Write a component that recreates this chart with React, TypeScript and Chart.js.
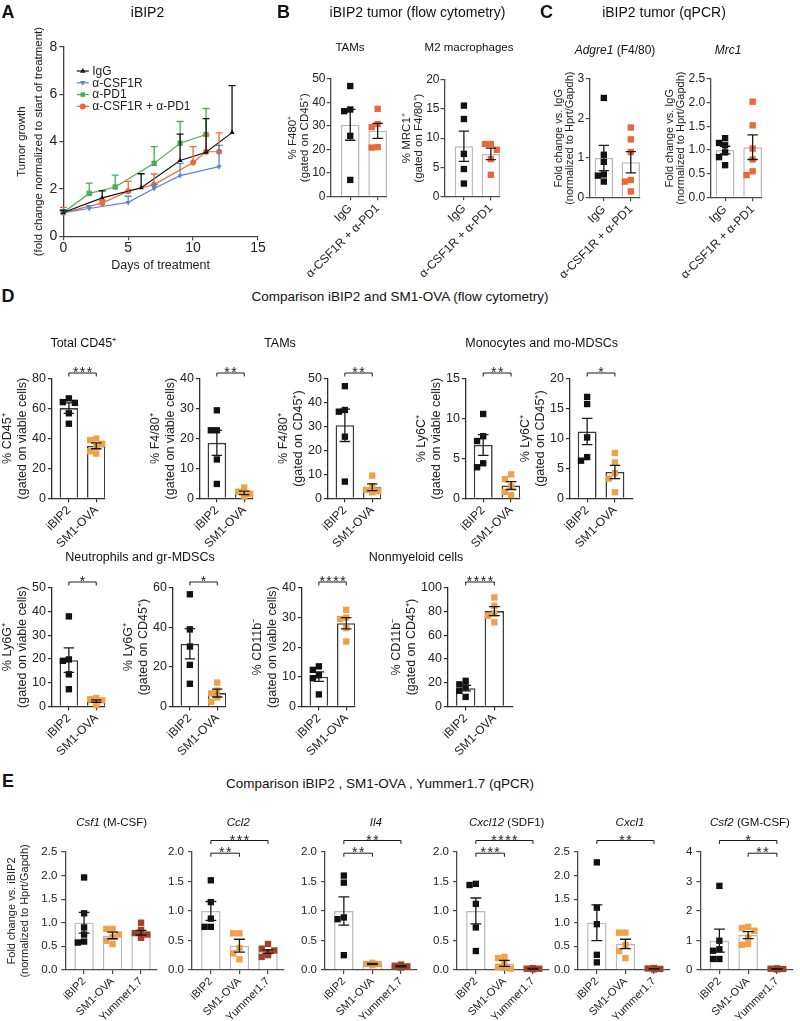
import React, { useEffect, useRef } from "react";
import { Chart, registerables } from "chart.js";

Chart.register(...registerables);

const FONT = "'Liberation Sans', Arial, Helvetica, sans-serif";
Chart.defaults.font.family = FONT;
Chart.defaults.color = "#222";

/* ---------------- Panel A data ---------------- */
const A_DAYS_IGG = [0, 3, 6, 9, 11, 13];
const A_IGG = [1.0, 1.62, 2.05, 3.2, 3.55, 4.38];
const A_IGG_SEM = [0.1, 0.3, 0.59, 1.12, 1.42, 1.99];
const A_DAYS_CSF1R = [0, 2, 5, 7, 9, 12];
const A_CSF1R = [1.0, 1.17, 1.43, 2.02, 2.56, 2.94];
const A_CSF1R_SEM = [0.08, 0.12, 0.26, 0.17, 0.52, 0.9];
const A_DAYS_PD1 = [0, 2, 4, 7, 9, 11];
const A_PD1 = [1.0, 1.81, 2.08, 3.08, 3.93, 4.3];
const A_PD1_SEM = [0.1, 0.43, 0.5, 0.71, 0.92, 1.1];
const A_DAYS_COMBO = [0, 3, 5, 7, 10, 11, 12];
const A_COMBO = [1.0, 1.4, 1.9, 2.18, 3.12, 3.57, 3.57];
const A_COMBO_SEM = [0.22, 0.12, 0.42, 0.45, 0.67, 0.72, 0.8];
const A_LABELS = ["IgG", "α-CSF1R", "α-PD1", "α-CSF1R + α-PD1"];

/* ---------------- Panel B data ---------------- */
const B_GROUPS = ["IgG", "α-CSF1R + α-PD1"];
const B_TAM_MEAN = [30.5, 27.9];
const B_TAM_SEM = [6.6, 3.2];
const B_TAM_IGG = [47, 37, 36.3, 25.8, 7];
const B_TAM_COMBO = [37.3, 30.8, 29.5, 21, 20.8];
const B_M2_MEAN = [8.6, 7.3];
const B_M2_SEM = [2.6, 1.0];
const B_M2_IGG = [15.6, 13.3, 7.3, 4.7, 2.2];
const B_M2_COMBO = [9.0, 9.0, 8.0, 6.4, 3.7];

/* ---------------- Panel C data ---------------- */
const C_ADGRE1_MEAN = [1.0, 0.89];
const C_ADGRE1_SEM = [0.32, 0.27];
const C_ADGRE1_IGG = [2.52, 1.08, 0.9, 0.58, 0.4, 0.55];
const C_ADGRE1_COMBO = [1.77, 1.47, 1.15, 0.44, 0.4, 0.15];
const C_MRC1_MEAN = [1.0, 1.06];
const C_MRC1_SEM = [0.08, 0.26];
const C_MRC1_IGG = [1.25, 1.15, 1.1, 0.95, 0.85, 0.68];
const C_MRC1_COMBO = [2.02, 1.52, 1.03, 0.8, 0.55, 0.47];

/* ---------------- Panel D data ---------------- */
const D_GROUPS = ["iBIP2", "SM1-OVA"];
const D_CD45_MEAN = [60.5, 35.2];
const D_CD45_SEM = [3.5, 2.0];
const D_CD45_IBIP2 = [67, 64.5, 64, 57, 50];
const D_CD45_SM1 = [40, 39, 36.5, 34.5, 31.5, 30];
const D_F480V_MEAN = [18.6, 1.8];
const D_F480V_SEM = [4.2, 0.6];
const D_F480V_IBIP2 = [29.5, 22.8, 22.8, 13, 4.8];
const D_F480V_SM1 = [3.6, 2.2, 1.5, 1.0, 0.5];
const D_F480C_MEAN = [30.6, 4.6];
const D_F480C_SEM = [6.8, 1.4];
const D_F480C_IBIP2 = [47, 37, 36.3, 25.8, 7];
const D_F480C_SM1 = [9.5, 5, 3.5, 3, 2.5];
const D_LY6CV_MEAN = [6.7, 1.6];
const D_LY6CV_SEM = [1.3, 0.5];
const D_LY6CV_IBIP2 = [10.6, 7.8, 7.2, 4.4, 3.9];
const D_LY6CV_SM1 = [3.0, 2.4, 1.5, 0.8, 0.4];
const D_LY6CC_MEAN = [11.2, 4.4];
const D_LY6CC_SEM = [2.2, 1.1];
const D_LY6CC_IBIP2 = [17.0, 15.8, 10.2, 6.9, 6.3];
const D_LY6CC_SM1 = [7.6, 6.0, 4.2, 3.3, 1.0];
const D_LY6GV_MEAN = [19.5, 2.2];
const D_LY6GV_SEM = [5.2, 0.5];
const D_LY6GV_IBIP2 = [38, 19.8, 19.2, 13.5, 7.2];
const D_LY6GV_SM1 = [3.5, 3.0, 2.5, 1.5, 0.5];
const D_LY6GC_MEAN = [31.7, 6.7];
const D_LY6GC_SEM = [7.7, 2.0];
const D_LY6GC_IBIP2 = [56.8, 39, 30.3, 21, 11.4];
const D_LY6GC_SM1 = [12, 8, 6.5, 4.5, 2.3];
const D_CD11BV_MEAN = [10.0, 28.1];
const D_CD11BV_SEM = [1.6, 1.9];
const D_CD11BV_IBIP2 = [13.5, 12.3, 10.5, 9.5, 4.0];
const D_CD11BV_SM1 = [32.6, 30, 29.5, 26.4, 21.9];
const D_CD11BC_MEAN = [15.3, 80.5];
const D_CD11BC_SEM = [2.3, 3.8];
const D_CD11BC_IBIP2 = [21.5, 18.5, 16, 13, 7.9];
const D_CD11BC_SM1 = [92, 85, 78.5, 76.5, 71];

/* ---------------- Panel E data ---------------- */
const E_GROUPS = ["iBIP2", "SM1-OVA", "Yummer1.7"];
const E_CSF1_MEAN = [1.0, 0.73, 0.79];
const E_CSF1_SEM = [0.22, 0.07, 0.05];
const E_CSF1_IBIP2 = [1.96, 1.2, 0.9, 0.75, 0.6, 0.58];
const E_CSF1_SM1 = [0.87, 0.87, 0.75, 0.7, 0.62, 0.55];
const E_CSF1_YUM = [1.0, 0.85, 0.78, 0.75, 0.72, 0.68];
const E_CCL2_MEAN = [1.0, 0.41, 0.31];
const E_CCL2_SEM = [0.16, 0.11, 0.03];
const E_CCL2_IBIP2 = [1.52, 1.15, 0.87, 0.73, 0.73];
const E_CCL2_SM1 = [0.62, 0.62, 0.37, 0.28, 0.18];
const E_CCL2_YUM = [0.44, 0.36, 0.33, 0.3, 0.28, 0.25, 0.22];
const E_IL4_MEAN = [1.0, 0.1, 0.06];
const E_IL4_SEM = [0.24, 0.01, 0.01];
const E_IL4_IBIP2 = [1.6, 1.48, 0.89, 0.86, 0.25];
const E_IL4_SM1 = [0.12, 0.1, 0.1, 0.08, 0.09];
const E_IL4_YUM = [0.09, 0.07, 0.06, 0.05, 0.04];
const E_CXCL12_MEAN = [1.0, 0.11, 0.02];
const E_CXCL12_SEM = [0.22, 0.05, 0.005];
const E_CXCL12_IBIP2 = [1.46, 1.44, 1.12, 0.72, 0.32];
const E_CXCL12_SM1 = [0.22, 0.2, 0.1, 0.05, 0.02, 0.04];
const E_CXCL12_YUM = [0.03, 0.02, 0.02, 0.01, 0.02];
const E_CXCL1_MEAN = [1.0, 0.55, 0.02];
const E_CXCL1_SEM = [0.38, 0.1, 0.005];
const E_CXCL1_IBIP2 = [2.28, 1.32, 0.97, 0.32, 0.16];
const E_CXCL1_SM1 = [0.79, 0.79, 0.53, 0.4, 0.25];
const E_CXCL1_YUM = [0.04, 0.03, 0.02, 0.02, 0.01];
const E_CSF2_MEAN = [0.99, 1.18, 0.03];
const E_CSF2_SEM = [0.39, 0.12, 0.01];
const E_CSF2_IBIP2 = [2.85, 0.99, 0.7, 0.65, 0.37, 0.37];
const E_CSF2_SM1 = [1.46, 1.42, 1.33, 1.1, 0.88, 0.85];
const E_CSF2_YUM = [0.05, 0.04, 0.03, 0.03, 0.02];

/* ---------------- styles ---------------- */
const BLACK = "#111111";
const ORANGE = "#f0a046";
const RED_BC = "#e8683c";
const BROWN = "#a2412a";
const A_COLORS = ["#111111", "#5585d6", "#4bab56", "#ea6a3a"];

type Sig = { a: number; b: number; text: string; level: number };
type Theme = {
  axis: string; bar: string; barW: number; tick: number; tickPad: number; label: number;
  title: number; titleLH: number; titlePad: number; sigY: number[];
};
const TH: Record<string, Theme> = {
  B: { axis: "#4a4a4a", bar: "#b9b9b9", barW: 1.5, tick: 12, tickPad: 1, label: 12, title: 11.5, titleLH: 1.05, titlePad: 0, sigY: [-6] },
  C: { axis: "#4a4a4a", bar: "#b9b9b9", barW: 1.5, tick: 12, tickPad: 1.5, label: 12, title: 11, titleLH: 1.05, titlePad: 0, sigY: [-6] },
  D: { axis: "#2e2e2e", bar: "#3a3a3a", barW: 1.6, tick: 12.5, tickPad: 2, label: 12, title: 12.5, titleLH: 1.2, titlePad: 0, sigY: [-6] },
  E: { axis: "#4a4a4a", bar: "#b9b9b9", barW: 1.5, tick: 11.5, tickPad: 4, label: 11, title: 11, titleLH: 1.15, titlePad: 6, sigY: [1.2, -11.5] },
};

type BarSpec = {
  th: string; labels: string[]; means: number[]; sems: number[]; points: number[][]; colors: string[];
  yMax: number; yStep: number; dec: number; title?: string[]; sigs?: Sig[];
  x0: number; x1: number; top: number; bot: number; xMin: number; xMax: number;
};

function swarm(vals: number[], yMax: number): number[] {
  const cand = [0, -0.22, 0.22, -0.33, 0.33, -0.11, 0.11];
  const placed: { x: number; y: number }[] = [];
  return vals.map((v) => {
    let dx = 0;
    for (const c of cand) {
      if (!placed.some((p) => Math.abs(p.x - c) < 0.2 && Math.abs(p.y - v) < yMax * 0.055)) {
        dx = c;
        break;
      }
    }
    placed.push({ x: dx, y: v });
    return dx;
  });
}

function place(chart: any, cv: HTMLCanvasElement, x0: number, x1: number, top: number, bot: number) {
  const ca = chart.chartArea;
  const W = Math.round(cv.width + (x1 - x0) - (ca.right - ca.left));
  const H = Math.round(cv.height + (bot - top) - (ca.bottom - ca.top));
  chart.resize(W, H);
  const cb = chart.chartArea;
  cv.style.left = Math.round(x0 - cb.left) + "px";
  cv.style.top = Math.round(top - cb.top) + "px";
}

function BarChart({ s }: { s: BarSpec }) {
  const ref = useRef<HTMLCanvasElement>(null);
  useEffect(() => {
    const cv = ref.current!;
    const t = TH[s.th];
    const datasets: any[] = [
      {
        type: "bar",
        order: 2,
        data: s.means.map((m, i) => ({ x: i, y: m })),
        backgroundColor: "#ffffff",
        borderColor: t.bar,
        borderWidth: t.barW,
        borderSkipped: "start",
        categoryPercentage: 0.68,
        barPercentage: 1,
      },
    ];
    s.points.forEach((pts, g) => {
      const off = swarm(pts, s.yMax);
      datasets.push({
        type: "scatter",
        order: 1,
        clip: false,
        data: pts.map((v, k) => ({ x: g + off[k], y: v })),
        pointStyle: "rect",
        pointRadius: 4.5,
        pointHoverRadius: 4.5,
        pointBorderWidth: 0,
        backgroundColor: s.colors[g],
        borderColor: s.colors[g],
      });
    });
    const plugin = {
      id: "errsig",
      afterDatasetsDraw(chart: any) {
        const ctx = chart.ctx;
        const xs = chart.scales.x;
        const ys = chart.scales.y;
        const meta = chart.getDatasetMeta(0);
        ctx.save();
        ctx.strokeStyle = "#1a1a1a";
        ctx.lineWidth = 1.3;
        s.means.forEach((m, i) => {
          const bw = meta.data[i].width;
          const cx = xs.getPixelForValue(i);
          const yt = ys.getPixelForValue(m + s.sems[i]);
          const yb = ys.getPixelForValue(Math.max(0, m - s.sems[i]));
          const cw = bw * 0.28;
          ctx.beginPath();
          ctx.moveTo(cx, yt);
          ctx.lineTo(cx, yb);
          ctx.moveTo(cx - cw, yt);
          ctx.lineTo(cx + cw, yt);
          ctx.moveTo(cx - cw, yb);
          ctx.lineTo(cx + cw, yb);
          ctx.stroke();
        });
        ctx.lineWidth = 1;
        ctx.fillStyle = "#1a1a1a";
        ctx.font = `14px ${FONT}`;
        ctx.textAlign = "center";
        ctx.textBaseline = "alphabetic";
        try {
          (ctx as any).letterSpacing = "1.5px";
        } catch (e) {}
        (s.sigs || []).forEach((g) => {
          const y = chart.chartArea.top + t.sigY[g.level];
          const xa = xs.getPixelForValue(g.a);
          const xb = xs.getPixelForValue(g.b);
          ctx.beginPath();
          ctx.moveTo(xa, y + 3.5);
          ctx.lineTo(xa, y);
          ctx.lineTo(xb, y);
          ctx.lineTo(xb, y + 3.5);
          ctx.stroke();
          ctx.fillText(g.text, (xa + xb) / 2 + 0.75, y + 4);
        });
        ctx.restore();
      },
    };
    const grid = { display: true, drawOnChartArea: false, drawTicks: true, tickLength: 4, color: t.axis, lineWidth: 1.2 };
    const border = { display: true, color: t.axis, width: 1.3 };
    const chart = new Chart(cv, {
      type: "bar",
      data: { datasets },
      options: {
        animation: false,
        responsive: false,
        maintainAspectRatio: false,
        events: [],
        layout: { padding: { left: 14, top: 30, right: 8, bottom: 2 }, autoPadding: false },
        plugins: { legend: { display: false }, tooltip: { enabled: false } },
        scales: {
          x: {
            type: "linear",
            min: s.xMin,
            max: s.xMax,
            offset: false,
            afterBuildTicks: (ax: any) => {
              ax.ticks = s.labels.map((_, i) => ({ value: i }));
            },
            grid: { ...grid, offset: false },
            border,
            ticks: {
              autoSkip: false,
              minRotation: 45,
              maxRotation: 45,
              padding: 1,
              color: "#222",
              font: { size: t.label },
              callback: (v: any) => s.labels[v] ?? "",
            },
          },
          y: {
            type: "linear",
            min: 0,
            max: s.yMax,
            grid,
            border,
            ticks: {
              stepSize: s.yStep,
              padding: t.tickPad,
              color: "#222",
              font: { size: t.tick },
              callback: (v: any) => Number(v).toFixed(s.dec),
            },
            title: s.title
              ? {
                  display: true,
                  text: s.title,
                  color: "#222",
                  font: { size: t.title, lineHeight: t.titleLH },
                  padding: { top: 0, bottom: t.titlePad },
                }
              : { display: false },
          },
        },
      } as any,
      plugins: [plugin],
    } as any);
    place(chart, cv, s.x0, s.x1, s.top, s.bot);
    return () => chart.destroy();
  }, []);
  return <canvas ref={ref} width={240} height={260} style={{ position: "absolute", left: 0, top: 0 }} />;
}

function GrowthChart() {
  const ref = useRef<HTMLCanvasElement>(null);
  useEffect(() => {
    const cv = ref.current!;
    const series = [
      { days: A_DAYS_IGG, vals: A_IGG, sem: A_IGG_SEM, shape: "triangle", rot: 0 },
      { days: A_DAYS_CSF1R, vals: A_CSF1R, sem: A_CSF1R_SEM, shape: "triangle", rot: 180 },
      { days: A_DAYS_PD1, vals: A_PD1, sem: A_PD1_SEM, shape: "rect", rot: 0 },
      { days: A_DAYS_COMBO, vals: A_COMBO, sem: A_COMBO_SEM, shape: "circle", rot: 0 },
    ];
    const datasets = series.map((se, k) => ({
      type: "line",
      label: A_LABELS[k],
      data: se.days.map((d, i) => ({ x: d, y: se.vals[i] })),
      borderColor: A_COLORS[k],
      backgroundColor: A_COLORS[k],
      borderWidth: 1.2,
      tension: 0,
      pointStyle: se.shape,
      pointRotation: se.rot,
      pointRadius: se.shape === "rect" ? 3.8 : 3,
      pointBorderWidth: 0,
      clip: false,
    }));
    const drawMarker = (ctx: any, shape: string, rot: number, x: number, y: number, r: number) => {
      ctx.beginPath();
      if (shape === "circle") ctx.arc(x, y, r, 0, Math.PI * 2);
      else if (shape === "rect") ctx.rect(x - r * 0.75, y - r * 0.75, r * 1.5, r * 1.5);
      else {
        const d = rot ? -1 : 1;
        ctx.moveTo(x, y - d * r);
        ctx.lineTo(x - r * 0.9, y + d * r * 0.6);
        ctx.lineTo(x + r * 0.9, y + d * r * 0.6);
        ctx.closePath();
      }
      ctx.fill();
    };
    const plugin = {
      id: "aerr",
      afterDatasetsDraw(chart: any) {
        const ctx = chart.ctx;
        const xs = chart.scales.x;
        const ys = chart.scales.y;
        ctx.save();
        ctx.lineWidth = 1.3;
        for (let k = series.length - 1; k >= 0; k--) {
          const se = series[k];
          ctx.strokeStyle = A_COLORS[k];
          se.days.forEach((d, i) => {
            const x = xs.getPixelForValue(d);
            const y0 = ys.getPixelForValue(se.vals[i]);
            const y1 = ys.getPixelForValue(se.vals[i] + se.sem[i]);
            ctx.beginPath();
            ctx.moveTo(x, y0);
            ctx.lineTo(x, y1);
            ctx.moveTo(x - 3.5, y1);
            ctx.lineTo(x + 3.5, y1);
            ctx.stroke();
          });
        }
        const ca = chart.chartArea;
        ctx.font = `12px ${FONT}`;
        ctx.textBaseline = "middle";
        ctx.textAlign = "left";
        series.forEach((se, k) => {
          const y = ca.top + 24 + k * 11.8;
          ctx.strokeStyle = A_COLORS[k];
          ctx.fillStyle = A_COLORS[k];
          ctx.lineWidth = 1.2;
          ctx.beginPath();
          ctx.moveTo(ca.left + 13.5, y);
          ctx.lineTo(ca.left + 25.5, y);
          ctx.stroke();
          drawMarker(ctx, se.shape, se.rot, ca.left + 19.5, y, 3);
          ctx.fillStyle = "#222";
          ctx.fillText(A_LABELS[k], ca.left + 29, y + 0.5);
        });
        ctx.restore();
      },
    };
    const grid = { display: true, drawOnChartArea: false, drawTicks: true, tickLength: 4, color: "#444", lineWidth: 1.2 };
    const border = { display: true, color: "#444", width: 1.3 };
    const chart = new Chart(cv, {
      type: "line",
      data: { datasets },
      options: {
        animation: false,
        responsive: false,
        maintainAspectRatio: false,
        events: [],
        layout: { padding: { left: 4, top: 45, right: 14, bottom: 4 }, autoPadding: false },
        plugins: { legend: { display: false }, tooltip: { enabled: false } },
        scales: {
          x: {
            type: "linear",
            min: 0,
            max: 15,
            grid,
            border,
            ticks: { stepSize: 5, padding: 0, color: "#222", font: { size: 14 }, maxRotation: 0 },
            title: { display: true, text: "Days of treatment", color: "#222", font: { size: 12.5 }, padding: { top: 1, bottom: 0 } },
          },
          y: {
            type: "linear",
            min: 0,
            max: 8,
            grid,
            border,
            ticks: { stepSize: 2, padding: 2, color: "#222", font: { size: 14 } },
            title: {
              display: true,
              text: ["Tumor growth", "(fold change normalized to start of treatment)"],
              color: "#222",
              font: { size: 11.5, lineHeight: 1.5 },
              padding: { top: 0, bottom: 0 },
            },
          },
        },
      } as any,
      plugins: [plugin],
    } as any);
    place(chart, cv, 63, 258, 47, 236);
    return () => chart.destroy();
  }, []);
  return <canvas ref={ref} width={280} height={320} style={{ position: "absolute", left: 0, top: 0 }} />;
}

const T = ({ x, y, size = 12, bold = false, children }: any) => (
  <div
    style={{
      position: "absolute",
      left: x,
      top: y,
      transform: "translate(-50%, -50%)",
      fontSize: size,
      fontWeight: bold ? 700 : 400,
      whiteSpace: "nowrap",
      lineHeight: 1,
      color: "#111",
    }}
  >
    {children}
  </div>
);

const BC2 = { xMin: -0.72, xMax: 1.34 };
const CC2 = { xMin: -0.52, xMax: 1.34 };
const DX = { xMin: -0.62, xMax: 1.32 };
const DXW = { xMin: -0.62, xMax: 1.65 };
const EX = { xMin: -0.66, xMax: 2.56 };
const R1 = { top: 378.5, bot: 497.3 };
const R2 = { top: 588, bot: 706.7 };
const RE = { top: 851.5, bot: 969.5 };
const BCC = [BLACK, RED_BC];
const DC = [BLACK, ORANGE];
const EC = [BLACK, ORANGE, BROWN];

const SPECS: BarSpec[] = [
  { th: "B", labels: B_GROUPS, means: B_TAM_MEAN, sems: B_TAM_SEM, points: [B_TAM_IGG, B_TAM_COMBO], colors: BCC, yMax: 50, yStep: 10, dec: 0, title: ["% F480⁺", "(gated on CD45⁺)"], x0: 330, x1: 387, top: 79, bot: 196.7, ...BC2 },
  { th: "B", labels: B_GROUPS, means: B_M2_MEAN, sems: B_M2_SEM, points: [B_M2_IGG, B_M2_COMBO], colors: BCC, yMax: 20, yStep: 5, dec: 0, title: ["% MRC1⁺", "(gated on F4/80⁺)"], x0: 444, x1: 500, top: 80, bot: 196.7, ...BC2 },
  { th: "C", labels: B_GROUPS, means: C_ADGRE1_MEAN, sems: C_ADGRE1_SEM, points: [C_ADGRE1_IGG, C_ADGRE1_COMBO], colors: BCC, yMax: 3, yStep: 1, dec: 0, title: ["Fold change vs. IgG", "(normalized to Hprt/Gapdh)"], x0: 589.3, x1: 640, top: 79, bot: 197.3, ...CC2 },
  { th: "C", labels: B_GROUPS, means: C_MRC1_MEAN, sems: C_MRC1_SEM, points: [C_MRC1_IGG, C_MRC1_COMBO], colors: BCC, yMax: 2.5, yStep: 0.5, dec: 1, title: ["Fold change vs. IgG", "(normalized to Hprt/Gapdh)"], x0: 711, x1: 762.5, top: 79, bot: 197.3, ...CC2 },

  { th: "D", labels: D_GROUPS, means: D_CD45_MEAN, sems: D_CD45_SEM, points: [D_CD45_IBIP2, D_CD45_SM1], colors: DC, yMax: 80, yStep: 20, dec: 0, title: ["% CD45⁺", "(gated on viable cells)"], sigs: [{ a: 0, b: 1, text: "***", level: 0 }], x0: 51.7, x1: 105, ...R1, ...DX },
  { th: "D", labels: D_GROUPS, means: D_F480V_MEAN, sems: D_F480V_SEM, points: [D_F480V_IBIP2, D_F480V_SM1], colors: DC, yMax: 40, yStep: 10, dec: 0, title: ["% F4/80⁺", "(gated on viable cells)"], sigs: [{ a: 0, b: 1, text: "**", level: 0 }], x0: 200, x1: 253.4, ...R1, ...DX },
  { th: "D", labels: D_GROUPS, means: D_F480C_MEAN, sems: D_F480C_SEM, points: [D_F480C_IBIP2, D_F480C_SM1], colors: DC, yMax: 50, yStep: 10, dec: 0, title: ["% F4/80⁺", "(gated on CD45⁺)"], sigs: [{ a: 0, b: 1, text: "**", level: 0 }], x0: 328.3, x1: 381.7, ...R1, ...DX },
  { th: "D", labels: D_GROUPS, means: D_LY6CV_MEAN, sems: D_LY6CV_SEM, points: [D_LY6CV_IBIP2, D_LY6CV_SM1], colors: DC, yMax: 15, yStep: 5, dec: 0, title: ["% Ly6C⁺", "(gated on viable cells)"], sigs: [{ a: 0, b: 1, text: "**", level: 0 }], x0: 466, x1: 520, ...R1, ...DX },
  { th: "D", labels: D_GROUPS, means: D_LY6CC_MEAN, sems: D_LY6CC_SEM, points: [D_LY6CC_IBIP2, D_LY6CC_SM1], colors: DC, yMax: 20, yStep: 5, dec: 0, title: ["% Ly6C⁺", "(gated on CD45⁺)"], sigs: [{ a: 0, b: 1, text: "*", level: 0 }], x0: 570, x1: 633, ...R1, ...DXW },

  { th: "D", labels: D_GROUPS, means: D_LY6GV_MEAN, sems: D_LY6GV_SEM, points: [D_LY6GV_IBIP2, D_LY6GV_SM1], colors: DC, yMax: 50, yStep: 10, dec: 0, title: ["% Ly6G⁺", "(gated on viable cells)"], sigs: [{ a: 0, b: 1, text: "*", level: 0 }], x0: 51.7, x1: 105, ...R2, ...DX },
  { th: "D", labels: D_GROUPS, means: D_LY6GC_MEAN, sems: D_LY6GC_SEM, points: [D_LY6GC_IBIP2, D_LY6GC_SM1], colors: DC, yMax: 60, yStep: 20, dec: 0, title: ["% Ly6G⁺", "(gated on CD45⁺)"], sigs: [{ a: 0, b: 1, text: "*", level: 0 }], x0: 173.3, x1: 226.7, ...R2, ...DX },
  { th: "D", labels: D_GROUPS, means: D_CD11BV_MEAN, sems: D_CD11BV_SEM, points: [D_CD11BV_IBIP2, D_CD11BV_SM1], colors: DC, yMax: 40, yStep: 10, dec: 0, title: ["% CD11b⁻", "(gated on viable cells)"], sigs: [{ a: 0, b: 1, text: "****", level: 0 }], x0: 301.7, x1: 355, ...R2, ...DX },
  { th: "D", labels: D_GROUPS, means: D_CD11BC_MEAN, sems: D_CD11BC_SEM, points: [D_CD11BC_IBIP2, D_CD11BC_SM1], colors: DC, yMax: 100, yStep: 20, dec: 0, title: ["% CD11b⁻", "(gated on CD45⁺)"], sigs: [{ a: 0, b: 1, text: "****", level: 0 }], x0: 448.3, x1: 513.3, ...R2, ...DXW },

  { th: "E", labels: E_GROUPS, means: E_CSF1_MEAN, sems: E_CSF1_SEM, points: [E_CSF1_IBIP2, E_CSF1_SM1, E_CSF1_YUM], colors: EC, yMax: 2.5, yStep: 0.5, dec: 1, title: ["Fold change vs. iBIP2", "(normalized to Hprt/Gapdh)"], x0: 65, x1: 156.7, ...RE, ...EX },
  { th: "E", labels: E_GROUPS, means: E_CCL2_MEAN, sems: E_CCL2_SEM, points: [E_CCL2_IBIP2, E_CCL2_SM1, E_CCL2_YUM], colors: EC, yMax: 2, yStep: 0.5, dec: 1, sigs: [{ a: 0, b: 1, text: "**", level: 0 }, { a: 0, b: 2, text: "***", level: 1 }], x0: 191.7, x1: 283.4, ...RE, ...EX },
  { th: "E", labels: E_GROUPS, means: E_IL4_MEAN, sems: E_IL4_SEM, points: [E_IL4_IBIP2, E_IL4_SM1, E_IL4_YUM], colors: EC, yMax: 2, yStep: 0.5, dec: 1, sigs: [{ a: 0, b: 1, text: "**", level: 0 }, { a: 0, b: 2, text: "**", level: 1 }], x0: 325, x1: 416.7, ...RE, ...EX },
  { th: "E", labels: E_GROUPS, means: E_CXCL12_MEAN, sems: E_CXCL12_SEM, points: [E_CXCL12_IBIP2, E_CXCL12_SM1, E_CXCL12_YUM], colors: EC, yMax: 2, yStep: 0.5, dec: 1, sigs: [{ a: 0, b: 1, text: "***", level: 0 }, { a: 0, b: 2, text: "****", level: 1 }], x0: 456.7, x1: 548.4, ...RE, ...EX },
  { th: "E", labels: E_GROUPS, means: E_CXCL1_MEAN, sems: E_CXCL1_SEM, points: [E_CXCL1_IBIP2, E_CXCL1_SM1, E_CXCL1_YUM], colors: EC, yMax: 2.5, yStep: 0.5, dec: 1, sigs: [{ a: 0, b: 2, text: "**", level: 1 }], x0: 578.3, x1: 670, ...RE, ...EX },
  { th: "E", labels: E_GROUPS, means: E_CSF2_MEAN, sems: E_CSF2_SEM, points: [E_CSF2_IBIP2, E_CSF2_SM1, E_CSF2_YUM], colors: EC, yMax: 4, yStep: 1, dec: 0, sigs: [{ a: 0, b: 2, text: "*", level: 1 }, { a: 1, b: 2, text: "**", level: 0 }], x0: 700.7, x1: 793, ...RE, ...EX },
];

export default function App() {
  return (
    <div
      style={{
        position: "absolute",
        left: 0,
        top: 0,
        width: 800,
        height: 1021,
        background: "#fff",
        fontFamily: FONT,
        overflow: "hidden",
      }}
    >
      <GrowthChart />
      {SPECS.map((s, i) => (
        <BarChart key={i} s={s} />
      ))}
      <T x={8} y={11.5} size={18} bold>A</T>
      <T x={283.5} y={11.5} size={18} bold>B</T>
      <T x={546.5} y={11.5} size={18} bold>C</T>
      <T x={8} y={296} size={18} bold>D</T>
      <T x={8} y={781} size={18} bold>E</T>

      <T x={147.5} y={11.7} size={14}>iBIP2</T>
      <T x={417.5} y={11.7} size={14}>iBIP2 tumor (flow cytometry)</T>
      <T x={664} y={11.7} size={14}>iBIP2 tumor (qPCR)</T>

      <T x={350} y={48.3} size={11.5}>TAMs</T>
      <T x={469} y={48.3} size={11.5}>M2 macrophages</T>
      <T x={615} y={50} size={12}><i>Adgre1</i> (F4/80)</T>
      <T x={728} y={50} size={12}><i>Mrc1</i></T>

      <T x={400} y={297} size={13.5}>Comparison iBIP2 and SM1-OVA (flow cytometry)</T>
      <T x={83.3} y={343.3} size={12.5}>Total CD45⁺</T>
      <T x={280} y={343.3} size={12.5}>TAMs</T>
      <T x={541.7} y={343.3} size={12.5}>Monocytes and mo-MDSCs</T>
      <T x={140} y={556.7} size={12.5}>Neutrophils and gr-MDSCs</T>
      <T x={416} y={556.7} size={12.5}>Nonmyeloid cells</T>

      <T x={380} y={784} size={13.5}>Comparison iBIP2 , SM1-OVA , Yummer1.7 (qPCR)</T>
      <T x={111.7} y={822.7} size={11.5}><i>Csf1</i> (M-CSF)</T>
      <T x={238.3} y={822.7} size={11.5}><i>Ccl2</i></T>
      <T x={375.8} y={822.7} size={11.5}><i>Il4</i></T>
      <T x={506.7} y={822.7} size={11.5}><i>Cxcl12</i> (SDF1)</T>
      <T x={630} y={822.7} size={11.5}><i>Cxcl1</i></T>
      <T x={750} y={822.7} size={11.5}><i>Csf2</i> (GM-CSF)</T>
    </div>
  );
}
